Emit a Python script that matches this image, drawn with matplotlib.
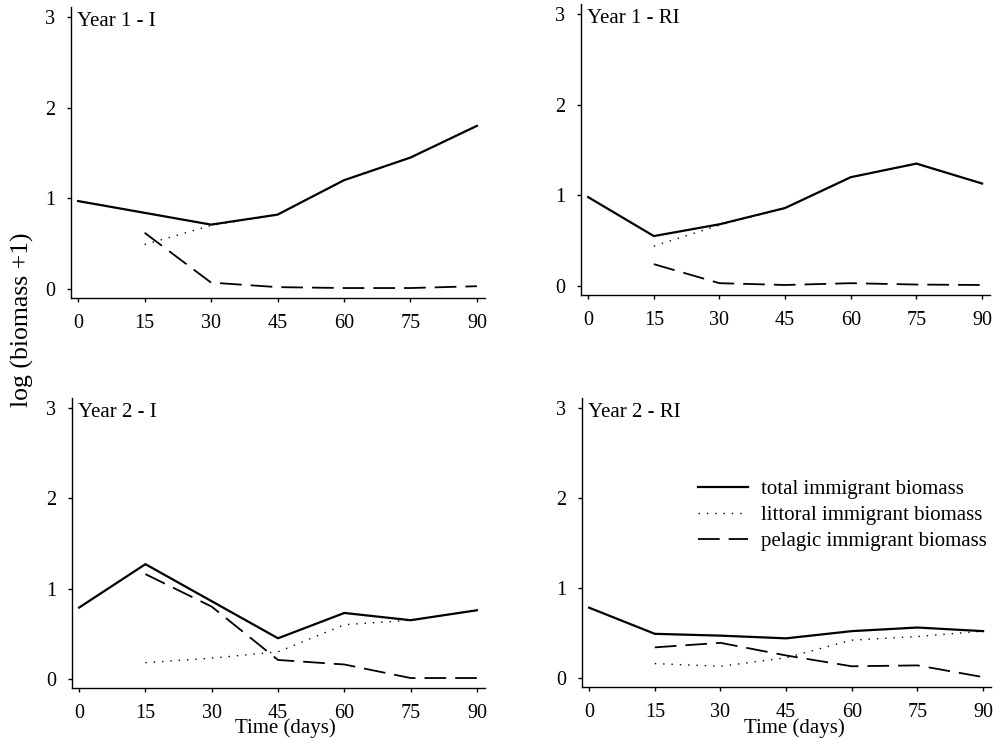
import matplotlib
matplotlib.use("Agg")
import matplotlib.pyplot as plt

plt.rcParams['font.family'] = ['Liberation Serif', 'DejaVu Serif']

# dias de muestreo
dias = [0, 15, 30, 45, 60, 75, 90]
dias_sin0 = [15, 30, 45, 60, 75, 90]

paneles = ["Year 1 - I", "Year 1 - RI", "Year 2 - I", "Year 2 - RI"]

# biomasa total de inmigrantes (log(biomasa+1))
total = [
    [0.97, 0.84, 0.71, 0.82, 1.20, 1.45, 1.80],
    [0.98, 0.55, 0.68, 0.86, 1.20, 1.35, 1.13],
    [0.79, 1.27, 0.86, 0.45, 0.73, 0.65, 0.76],
    [0.78, 0.49, 0.47, 0.44, 0.52, 0.56, 0.52],
]
# litoral (desde el dia 15); donde coincide con el total va debajo de la linea
litoral = [
    [0.49, 0.70, 0.82, 1.20, 1.45, 1.80],
    [0.44, 0.67, 0.86, 1.20, 1.35, 1.13],
    [0.18, 0.23, 0.30, 0.60, 0.65, 0.76],
    [0.16, 0.13, 0.225, 0.42, 0.46, 0.52],
]
# pelagico (desde el dia 15)
pelagico = [
    [0.62, 0.07, 0.02, 0.01, 0.01, 0.03],
    [0.24, 0.03, 0.01, 0.03, 0.015, 0.01],
    [1.16, 0.80, 0.21, 0.16, 0.01, 0.01],
    [0.34, 0.39, 0.25, 0.13, 0.14, 0.01],
]

nombres = ["total immigrant biomass", "littoral immigrant biomass",
           "pelagic immigrant biomass"]

# posiciones de los ejes [izq, abajo, ancho, alto] en fraccion de figura
posiciones = [
    [0.0709, 0.5973, 0.413, 0.393],
    [0.580, 0.6014, 0.408, 0.393],
    [0.0719, 0.0703, 0.412, 0.392],
    [0.581, 0.0716, 0.408, 0.391],
]

fig = plt.figure(figsize=(10.02, 7.4), dpi=100)

for i in range(4):
    ax = fig.add_axes(posiciones[i])
    ax.plot(dias, total[i], color='black', lw=1.6, ls='-', label=nombres[0],
            zorder=3)
    ax.plot(dias_sin0, litoral[i], color='black', lw=1.0, ls=(0, (1, 5)),
            label=nombres[1], zorder=2)
    ax.plot(dias_sin0, pelagico[i], color='black', lw=1.3, ls=(0, (12, 5)),
            label=nombres[2], zorder=2)
    ax.set_xlim(-1.6, 91.8)
    ax.set_ylim(-0.1, 3.11)
    ax.set_xticks(dias)
    ax.set_yticks([0, 1, 2, 3])
    ax.spines['top'].set_visible(False)
    ax.spines['right'].set_visible(False)
    ax.spines['left'].set_linewidth(1.0)
    ax.spines['bottom'].set_linewidth(1.0)
    ax.tick_params(axis='both', direction='out', length=3, width=1.0,
                   labelsize=14.5, pad=8.5)
    ax.text(-0.3, 2.95, paneles[i], ha='left', va='center', fontsize=15)
    if i == 3:
        ax.legend(loc='upper left', bbox_to_anchor=(0.284, 0.717),
                  frameon=False, fontsize=15, borderpad=0, borderaxespad=0,
                  handlelength=2.4, handletextpad=0.6, labelspacing=0.3)

fig.text(0.2844, 0.0162, "Time (days)", ha='center', va='center', fontsize=15)
fig.text(0.7924, 0.0162, "Time (days)", ha='center', va='center', fontsize=15)
fig.text(0.022, 0.568, "log (biomass +1)", rotation=90, ha='center',
         va='center', fontsize=18.5)

fig.savefig("out.png", dpi=100)
